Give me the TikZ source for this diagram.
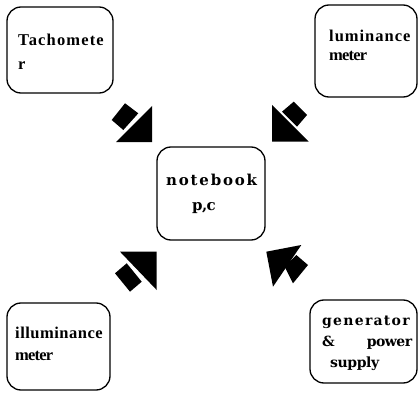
\documentclass[tikz,border=0pt]{standalone}
\usepackage{fontspec}
\setmainfont{Liberation Serif}
\newfontfamily\wideserif{DejaVu Serif}
\newcommand\lsp[2]{{\addfontfeature{LetterSpace=#1}#2}}
\begin{document}
\begin{tikzpicture}[x=1pt,y=-1pt,
  box/.style={draw, line width=1.3pt, rounded corners=14pt, inner sep=0pt, outer sep=0pt},
  lbl/.style 2 args={anchor=base west, inner sep=0pt, text width=110pt, align=left,
    font=\bfseries\fontsize{#1}{#2}\selectfont},
  wlbl/.style 2 args={anchor=base west, inner sep=0pt, text width=110pt, align=left,
    font=\wideserif\bfseries\fontsize{#1}{#2}\selectfont},
  arr/.style={fill=black}]
\useasboundingbox (0,0) rectangle (418,396);

% boxes
\node[box, minimum width=106pt, minimum height=86pt] (tach) at (60,50) {};
\node[box, minimum width=102pt, minimum height=92pt] (lum) at (366,51) {};
\node[box, minimum width=108pt, minimum height=93pt] (nb) at (211,193.5) {};
\node[box, minimum width=103pt, minimum height=87pt] (ill) at (58.5,346.5) {};
\node[box, minimum width=107pt, minimum height=83pt] (gen) at (363.5,341.5) {};

% texts
\node[lbl={16.5}{24}] (tachT) at (18,46) {\lsp{7}{Tachomete}\\r};
\node[lbl={16.5}{18.5}] (lumT) at (329,41.7) {\lsp{6}{luminance}\\\lsp{-5}{meter}};
\node[wlbl={15}{25}] (nbT) at (166,185) {\lsp{12}{notebook}\\\hspace*{26pt}\lsp{-4}{p,c}};
\node[lbl={16.5}{22}] (illT) at (15,338) {\lsp{3}{illuminance}\\\lsp{-5}{meter}};
\node[wlbl={14}{21}] (genT) at (322,325) {\lsp{9}{generator}\\\makebox[90pt][l]{\&\hfill\lsp{-4}{power}}\\\hspace*{8pt}\lsp{-3}{supply}};

% arrows
\fill[arr] (152,106) -- (152,142) -- (116,142) -- cycle;
\fill[arr] (111.7,120) -- (125,103.3) -- (138.3,113.3) -- (123.3,130) -- cycle;

\fill[arr] (272,105) -- (272,141.7) -- (308.7,141.7) -- cycle;
\fill[arr] (282,111.7) -- (293.7,101.7) -- (307,115) -- (297,126.7) -- cycle;

\fill[arr] (120,251.7) -- (156.7,251.7) -- (156.7,290) -- cycle;
\fill[arr] (115,273.3) -- (126.7,263.3) -- (141.7,281.7) -- (130,291.7) -- cycle;

\fill[arr] (266.3,251.7) -- (301.3,245) -- (273,286.7) -- cycle;
\fill[arr] (284.7,266.7) -- (296.3,255) -- (308,265) -- (293,283.3) -- cycle;
\end{tikzpicture}
\end{document}
